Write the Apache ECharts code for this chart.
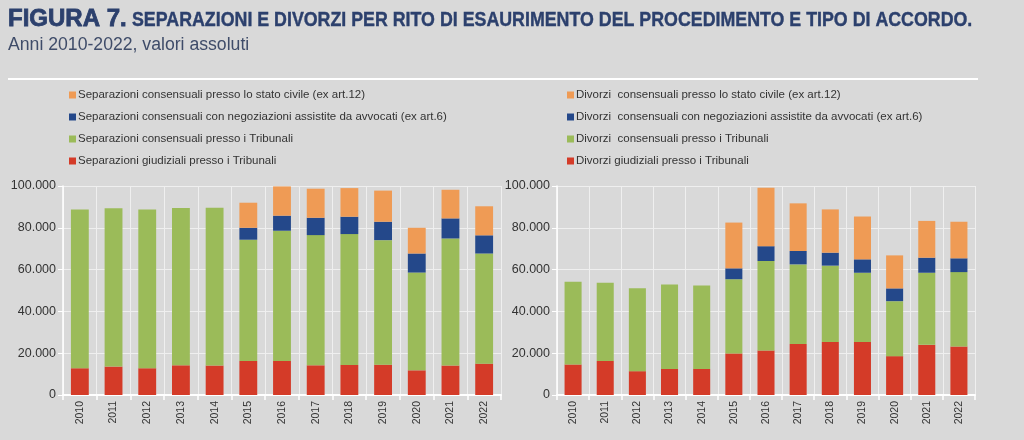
<!DOCTYPE html>
<html>
<head>
<meta charset="utf-8">
<script src="https://cdn.jsdelivr.net/npm/echarts@6/dist/echarts.min.js"></script>
<style>
html,body{margin:0;padding:0;background:#d9d9d9;}
#c{width:1024px;height:440px;}
</style>
</head>
<body>
<div id="c"></div>
<script>
const years = ['2010','2011','2012','2013','2014','2015','2016','2017','2018','2019','2020','2021','2022'];
const yTicks = [0, 20000, 40000, 60000, 80000, 100000];

const sepNames = [
  'Separazioni consensuali presso lo stato civile (ex art.12)',
  'Separazioni consensuali con negoziazioni assistite da avvocati (ex art.6)',
  'Separazioni consensuali presso i Tribunali',
  'Separazioni giudiziali presso i Tribunali'
];
const divNames = [
  'Divorzi  consensuali presso lo stato civile (ex art.12)',
  'Divorzi  consensuali con negoziazioni assistite da avvocati (ex art.6)',
  'Divorzi  consensuali presso i Tribunali',
  'Divorzi giudiziali presso i Tribunali'
];

const sepGiudiziali  = [12800,13600,12800,14200,14100,16300,16300,14200,14400,14500,11800,14100,15000];
const sepTribunali   = [75900,75700,75900,75300,75500,58000,62300,62300,62600,59600,46800,60800,52700];
const sepAvvocati    = [0,0,0,0,0,5700,7200,8300,8300,8800,9100,9600,8700];
const sepStatoCivile = [0,0,0,0,0,12000,14000,13900,13700,14900,12300,13700,13900];

const divGiudiziali  = [14600,16300,11400,12500,12500,19900,21300,24400,25300,25300,18600,24000,23200];
const divTribunali   = [39600,37400,39700,40400,39900,35500,42800,38100,36600,33200,26300,34500,35600];
const divAvvocati    = [0,0,0,0,0,5200,7100,6400,6200,6400,6100,7200,6600];
const divStatoCivile = [0,0,0,0,0,21900,28000,22800,20700,20500,15800,17600,17500];

const colors = { orange:'#ef9b55', blue:'#24488a', green:'#9bbb59', red:'#d43b28' };
const SANS = "'Liberation Sans',Arial,sans-serif";

function fmt(v){ return String(v).replace(/\B(?=(\d{3})+(?!\d))/g,'.'); }

function xAxisCfg(gi){
  return {
    type:'category', gridIndex:gi, data:years,
    axisLine:{show:true, lineStyle:{color:'#ffffff', width:2}},
    axisTick:{show:true, alignWithLabel:false, length:5, lineStyle:{color:'#ffffff', width:1.5}},
    splitLine:{show:true, lineStyle:{color:'#efefef', width:1}},
    axisLabel:{rotate:90, color:'#333', fontFamily:SANS, fontSize:10.5, margin:6}
  };
}
function yAxisCfg(gi){
  return {
    type:'value', gridIndex:gi, min:0, max:100000, interval:20000,
    axisLine:{show:true, lineStyle:{color:'#ffffff', width:1.5}},
    axisTick:{show:true, length:5, lineStyle:{color:'#ffffff'}},
    splitLine:{show:true, lineStyle:{color:'#efefef', width:1}},
    axisLabel:{color:'#333', fontFamily:SANS, fontSize:12.5, margin:7, formatter:function(v){return fmt(v);}}
  };
}
function bar(name, data, color, gi){
  return {
    name:name, type:'bar', stack:'s'+gi, xAxisIndex:gi, yAxisIndex:gi,
    data:data, barWidth:'53%', itemStyle:{color:color}, emphasis:{disabled:true}
  };
}
function legendCfg(left, names){
  return {
    orient:'vertical', left:left, top:83, itemGap:8, itemWidth:7, itemHeight:7, icon:'rect',
    data:names, selectedMode:false,
    textStyle:{color:'#333', fontFamily:SANS, fontSize:11.5, lineHeight:14, padding:[0,0,0,-3]}
  };
}

const chart = echarts.init(document.getElementById('c'), null, {renderer:'canvas'});
chart.setOption({
  backgroundColor:'#d9d9d9',
  animation:false,
  graphic:[
    {type:'text', x:8, y:7, style:{text:'FIGURA 7.', fill:'#2c406d', stroke:'#2c406d', lineWidth:0.8, font:"bold 24px "+SANS}},
    {type:'text', x:132, y:10, scaleX:0.89, style:{text:'SEPARAZIONI E DIVORZI PER RITO DI ESAURIMENTO DEL PROCEDIMENTO E TIPO DI ACCORDO.', fill:'#2c406d', stroke:'#2c406d', lineWidth:0.4, font:"bold 20px "+SANS}},
    {type:'text', x:8, y:36, scaleX:0.98, style:{text:'Anni 2010-2022, valori assoluti', fill:'#3f4c69', font:"18px "+SANS}},
    {type:'rect', shape:{x:8, y:78, width:970, height:2}, style:{fill:'#ffffff'}}
  ],
  legend:[ legendCfg(64, sepNames), legendCfg(562, divNames) ],
  grid:[
    {left:63, top:186, width:438, height:209, containLabel:false},
    {left:557, top:186, width:418, height:209, containLabel:false}
  ],
  xAxis:[ xAxisCfg(0), xAxisCfg(1) ],
  yAxis:[ yAxisCfg(0), yAxisCfg(1) ],
  series:[
    bar(sepNames[3], sepGiudiziali, colors.red, 0),
    bar(sepNames[2], sepTribunali, colors.green, 0),
    bar(sepNames[1], sepAvvocati, colors.blue, 0),
    bar(sepNames[0], sepStatoCivile, colors.orange, 0),
    bar(divNames[3], divGiudiziali, colors.red, 1),
    bar(divNames[2], divTribunali, colors.green, 1),
    bar(divNames[1], divAvvocati, colors.blue, 1),
    bar(divNames[0], divStatoCivile, colors.orange, 1)
  ]
});
</script>
</body>
</html>
